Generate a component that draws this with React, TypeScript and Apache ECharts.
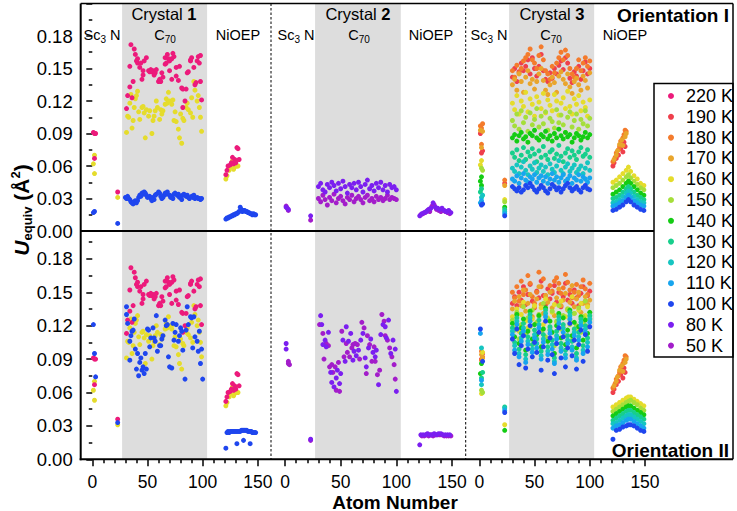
import React, { useEffect, useRef } from 'react';
import * as echarts from 'echarts';

type Pt = [number, number];

const TEMPS = ['220 K', '190 K', '180 K', '170 K', '160 K', '150 K', '140 K', '130 K', '120 K', '110 K', '100 K', '80 K', '50 K'];
const TEMP_COLORS = ['#ec1a7b', '#ef3f4c', '#f47b2c', '#e9a52c', '#e5dc2c', '#a5de3a', '#14cc14', '#17cf8c', '#16c5c1', '#17a5ee', '#1f46ee', '#7b1ff0', '#a31dca'];

const X_TICK_RANGE = [0, 150];
const C70_BAND = [27, 104];

// ---------- Crystal 1 (220 K, 160 K, 100 K) ----------
const C1_220_SC: Pt[] = [[1, 0.091], [2, 0.090], [3, 0.090], [2, 0.067], [23, 0.036]];
const C1_160_SC: Pt[] = [[2, 0.070], [1, 0.062], [2, 0.053], [23, 0.031]];
const C1_100_SC_I: Pt[] = [[1, 0.017], [2, 0.018], [23, 0.007]];
const C1_100_SC_II: Pt[] = [[1, 0.121], [2, 0.095], [3, 0.074], [23, 0.033]];

const C1_220_C70_ATOMS = [31, 32, 34, 34, 35, 36, 37, 38, 39, 40, 41, 41, 43, 44, 45, 46, 46, 47, 49, 51, 52, 53, 54, 55, 56, 57, 58, 60, 61, 62, 63, 64, 66, 66, 67, 68, 69, 70, 70, 72, 72, 73, 74, 76, 76, 78, 79, 81, 82, 82, 84, 85, 86, 87, 89, 89, 90, 92, 93, 94, 95, 96, 97, 98, 98, 99];
const C1_220_C70 = [0.113, 0.125, 0.133, 0.152, 0.172, 0.123, 0.138, 0.168, 0.163, 0.157, 0.155, 0.159, 0.151, 0.155, 0.140, 0.144, 0.148, 0.157, 0.160, 0.148, 0.147, 0.149, 0.147, 0.148, 0.144, 0.146, 0.149, 0.138, 0.140, 0.138, 0.146, 0.142, 0.154, 0.160, 0.155, 0.163, 0.159, 0.157, 0.148, 0.140, 0.159, 0.164, 0.161, 0.151, 0.143, 0.139, 0.152, 0.132, 0.131, 0.114, 0.120, 0.131, 0.146, 0.147, 0.157, 0.158, 0.160, 0.151, 0.135, 0.137, 0.157, 0.161, 0.155, 0.162, 0.138, 0.121];
const C1_160_C70_ATOMS = [31, 32, 33, 34, 35, 36, 37, 38, 39, 40, 41, 42, 43, 45, 46, 47, 48, 49, 51, 52, 54, 55, 56, 57, 58, 59, 61, 62, 63, 64, 66, 67, 68, 69, 70, 72, 73, 74, 75, 76, 78, 79, 80, 81, 82, 83, 85, 86, 87, 89, 90, 91, 92, 93, 95, 96, 97, 98, 99];
const C1_160_C70 = [0.091, 0.106, 0.105, 0.118, 0.126, 0.095, 0.102, 0.114, 0.122, 0.125, 0.129, 0.110, 0.103, 0.114, 0.115, 0.109, 0.086, 0.112, 0.106, 0.111, 0.090, 0.102, 0.106, 0.111, 0.120, 0.114, 0.103, 0.112, 0.108, 0.111, 0.117, 0.122, 0.118, 0.128, 0.120, 0.117, 0.121, 0.102, 0.110, 0.101, 0.094, 0.086, 0.108, 0.081, 0.104, 0.102, 0.114, 0.118, 0.112, 0.109, 0.123, 0.105, 0.138, 0.130, 0.120, 0.125, 0.114, 0.105, 0.092];
const C1_100_C70_I: Pt[] = [[30, 0.031], [31, 0.030], [32, 0.032], [33, 0.030], [34, 0.029], [35, 0.027], [36, 0.026], [37, 0.025], [38, 0.027], [39, 0.028], [40, 0.026], [41, 0.028], [42, 0.031], [43, 0.033], [44, 0.032], [45, 0.035], [46, 0.034], [47, 0.036], [48, 0.035], [49, 0.033], [50, 0.031], [52, 0.032], [53, 0.030], [54, 0.028], [55, 0.031], [56, 0.029], [57, 0.033], [58, 0.034], [60, 0.036], [61, 0.035], [62, 0.032], [63, 0.030], [64, 0.031], [65, 0.033], [66, 0.035], [67, 0.034], [68, 0.036], [70, 0.033], [71, 0.031], [72, 0.032], [73, 0.030], [74, 0.034], [75, 0.035], [77, 0.033], [78, 0.034], [79, 0.031], [80, 0.032], [81, 0.029], [82, 0.033], [83, 0.034], [85, 0.032], [86, 0.033], [87, 0.031], [88, 0.030], [90, 0.032], [91, 0.031], [92, 0.033], [93, 0.030], [95, 0.031], [96, 0.030], [97, 0.030], [98, 0.029], [99, 0.030]];
const C1_100_C70_II_ATOMS = [31, 31, 32, 34, 34, 35, 36, 37, 38, 39, 40, 41, 42, 43, 44, 45, 46, 47, 48, 49, 50, 51, 52, 53, 55, 56, 57, 58, 59, 61, 62, 63, 64, 66, 67, 68, 69, 70, 72, 73, 74, 75, 76, 78, 79, 80, 81, 82, 84, 85, 86, 87, 89, 90, 91, 92, 93, 95, 96, 97, 98, 99, 100];
const C1_100_C70_II = [0.130, 0.137, 0.122, 0.106, 0.089, 0.111, 0.115, 0.116, 0.126, 0.099, 0.081, 0.095, 0.075, 0.087, 0.091, 0.080, 0.083, 0.077, 0.095, 0.081, 0.117, 0.116, 0.101, 0.109, 0.118, 0.109, 0.106, 0.129, 0.097, 0.102, 0.102, 0.108, 0.111, 0.125, 0.120, 0.121, 0.092, 0.083, 0.082, 0.122, 0.107, 0.114, 0.121, 0.106, 0.111, 0.118, 0.115, 0.098, 0.072, 0.116, 0.137, 0.121, 0.128, 0.127, 0.100, 0.128, 0.110, 0.106, 0.097, 0.115, 0.086, 0.099, 0.072];

const C1_220_NI: Pt[] = [[121, 0.052], [122, 0.056], [123, 0.060], [125, 0.061], [126, 0.063], [127, 0.068], [128, 0.062], [129, 0.066], [130, 0.063], [131, 0.077], [132, 0.076], [133, 0.066]];
const C1_160_NI: Pt[] = [[121, 0.048], [122, 0.051], [124, 0.056], [125, 0.059], [127, 0.065], [128, 0.057], [129, 0.059], [130, 0.065], [131, 0.060], [132, 0.060]];
const C1_100_NI_I: Pt[] = [[121, 0.011], [122, 0.012], [123, 0.012], [124, 0.013], [125, 0.013], [126, 0.014], [127, 0.014], [128, 0.015], [129, 0.015], [130, 0.016], [131, 0.016], [132, 0.017], [133, 0.018], [134, 0.022], [135, 0.020], [136, 0.018], [137, 0.019], [138, 0.019], [139, 0.018], [140, 0.018], [141, 0.017], [142, 0.017], [143, 0.016], [144, 0.016], [145, 0.015], [146, 0.016], [147, 0.015], [148, 0.015]];
const C1_100_NI_II: Pt[] = [[121, 0.010], [122, 0.024], [123, 0.025], [124, 0.024], [125, 0.025], [126, 0.025], [127, 0.025], [128, 0.025], [129, 0.025], [130, 0.025], [131, 0.014], [131, 0.025], [132, 0.025], [133, 0.025], [134, 0.025], [135, 0.026], [137, 0.017], [136, 0.026], [137, 0.026], [138, 0.026], [139, 0.026], [140, 0.026], [141, 0.025], [142, 0.025], [143, 0.014], [143, 0.025], [144, 0.025], [145, 0.024], [146, 0.024], [147, 0.024], [148, 0.024]];

// ---------- Crystal 2 (80 K, 50 K) ----------
const C2_80_SC_I: Pt[] = [[1, 0.022], [3, 0.020], [23, 0.014]];
const C2_50_SC_I: Pt[] = [[1, 0.023], [2, 0.021], [3, 0.019], [23, 0.010]];
const C2_80_SC_II: Pt[] = [[1, 0.104], [1, 0.099], [23, 0.018]];
const C2_50_SC_II: Pt[] = [[3, 0.088], [3, 0.086], [4, 0.085], [23, 0.017]];

const C2_C70_ATOMS = [30, 32, 34, 36, 38, 40, 42, 44, 46, 48, 50, 52, 54, 56, 58, 60, 62, 64, 66, 68, 70, 72, 74, 76, 78, 80, 82, 84, 86, 88, 90, 92, 94, 96, 98, 100];
const C2_80_C70_I = [0.041, 0.044, 0.038, 0.036, 0.043, 0.040, 0.045, 0.042, 0.037, 0.044, 0.039, 0.046, 0.041, 0.035, 0.043, 0.040, 0.044, 0.038, 0.045, 0.041, 0.036, 0.043, 0.047, 0.039, 0.042, 0.037, 0.044, 0.040, 0.045, 0.038, 0.042, 0.036, 0.043, 0.040, 0.041, 0.038];
const C2_50_C70_I = [0.030, 0.027, 0.033, 0.029, 0.024, 0.031, 0.028, 0.034, 0.026, 0.030, 0.032, 0.028, 0.025, 0.031, 0.029, 0.033, 0.027, 0.030, 0.032, 0.029, 0.026, 0.031, 0.033, 0.028, 0.030, 0.027, 0.032, 0.029, 0.031, 0.028, 0.030, 0.033, 0.029, 0.031, 0.030, 0.029];
const C2_80_C70_II: Pt[] = [[32, 0.129], [33, 0.121], [34, 0.103], [36, 0.107], [37, 0.101], [39, 0.114], [41, 0.078], [42, 0.069], [44, 0.065], [46, 0.073], [47, 0.080], [49, 0.068], [50, 0.077], [52, 0.107], [54, 0.088], [55, 0.119], [57, 0.106], [59, 0.113], [61, 0.089], [62, 0.097], [64, 0.093], [66, 0.098], [68, 0.107], [70, 0.113], [72, 0.091], [73, 0.083], [75, 0.100], [77, 0.108], [79, 0.096], [81, 0.092], [82, 0.098], [84, 0.067], [86, 0.112], [88, 0.121], [90, 0.119], [91, 0.109], [93, 0.125], [95, 0.095], [97, 0.107], [99, 0.099], [100, 0.061]];
const C2_50_C70_II: Pt[] = [[31, 0.121], [34, 0.113], [35, 0.090], [37, 0.104], [39, 0.102], [40, 0.083], [42, 0.085], [43, 0.078], [45, 0.083], [46, 0.062], [48, 0.087], [49, 0.061], [51, 0.115], [53, 0.092], [55, 0.104], [56, 0.096], [58, 0.092], [60, 0.100], [61, 0.103], [63, 0.104], [65, 0.103], [67, 0.090], [69, 0.123], [71, 0.118], [73, 0.077], [74, 0.111], [76, 0.103], [78, 0.088], [80, 0.101], [81, 0.088], [83, 0.076], [85, 0.080], [87, 0.130], [89, 0.124], [90, 0.111], [92, 0.107], [94, 0.100], [96, 0.092], [98, 0.085], [99, 0.072]];

const C2_80_NI_I: Pt[] = [[121, 0.014], [123, 0.016], [125, 0.017], [127, 0.018], [129, 0.020], [131, 0.021], [133, 0.026], [135, 0.022], [137, 0.021], [139, 0.020], [141, 0.021], [143, 0.019], [145, 0.018], [147, 0.019], [149, 0.017]];
const C2_50_NI_I: Pt[] = [[122, 0.015], [124, 0.016], [126, 0.017], [128, 0.019], [130, 0.018], [132, 0.023], [134, 0.024], [136, 0.020], [138, 0.019], [140, 0.018], [142, 0.019], [144, 0.018], [146, 0.017], [148, 0.016]];
const C2_80_NI_II: Pt[] = [[121, 0.013], [122, 0.022], [124, 0.022], [126, 0.022], [128, 0.023], [130, 0.022], [132, 0.022], [134, 0.023], [136, 0.022], [138, 0.023], [140, 0.023], [142, 0.022], [144, 0.022], [146, 0.022], [148, 0.022]];
const C2_50_NI_II: Pt[] = [[123, 0.021], [125, 0.021], [127, 0.022], [129, 0.021], [131, 0.022], [133, 0.021], [135, 0.022], [137, 0.022], [139, 0.022], [141, 0.022], [143, 0.021], [145, 0.021], [147, 0.021], [149, 0.021]];

// ---------- Crystal 3 (190 K ... 100 K) ----------
const C3_TEMPS = ['190 K', '180 K', '170 K', '160 K', '150 K', '140 K', '130 K', '120 K', '110 K', '100 K'];

const C3_SC_I: Pt[][] = [
  [[1, 0.090], [2, 0.072], [3, 0.074], [23, 0.044]],
  [[1, 0.097], [2, 0.095], [3, 0.099], [2, 0.080], [23, 0.047]],
  [[1, 0.093], [2, 0.077], [3, 0.092], [23, 0.042]],
  [[2, 0.065], [1, 0.061], [23, 0.029]],
  [[2, 0.058], [3, 0.056], [23, 0.027]],
  [[2, 0.050], [1, 0.046], [2, 0.042], [23, 0.022]],
  [[2, 0.039], [1, 0.036], [23, 0.020]],
  [[2, 0.031], [3, 0.033], [23, 0.018]],
  [[2, 0.028], [1, 0.026], [23, 0.016]],
  [[2, 0.024], [3, 0.025], [23, 0.014]],
];
const C3_SC_II: Pt[][] = [
  [[3, 0.095], [2, 0.090]],
  [[2, 0.097], [3, 0.092], [2, 0.089]],
  [[2, 0.094], [3, 0.091]],
  [[2, 0.059], [3, 0.096], [23, 0.031]],
  [[2, 0.062], [3, 0.060]],
  [[2, 0.086], [1, 0.077], [23, 0.026]],
  [[2, 0.073], [3, 0.078], [23, 0.047]],
  [[2, 0.100], [2, 0.067], [23, 0.046]],
  [[1, 0.113], [2, 0.071], [23, 0.044]],
  [[1, 0.117], [3, 0.088], [23, 0.042]],
];

const C3_C70_ATOMS = [30, 32, 34, 36, 38, 40, 42, 44, 46, 48, 50, 52, 54, 56, 58, 60, 62, 64, 66, 68, 70, 72, 74, 76, 78, 80, 82, 84, 86, 88, 90, 92, 94, 96, 98, 100];
const C3_C70_I: number[][] = [
  [0.142, 0.150, 0.138, 0.147, 0.155, 0.148, 0.152, 0.158, 0.145, 0.160, 0.150, 0.143, 0.152, 0.163, 0.148, 0.140, 0.138, 0.146, 0.141, 0.150, 0.145, 0.153, 0.157, 0.149, 0.160, 0.155, 0.141, 0.137, 0.147, 0.143, 0.152, 0.140, 0.148, 0.156, 0.145, 0.150],
  [0.148, 0.142, 0.153, 0.146, 0.150, 0.157, 0.160, 0.163, 0.168, 0.158, 0.155, 0.150, 0.162, 0.170, 0.158, 0.148, 0.145, 0.140, 0.152, 0.146, 0.155, 0.160, 0.165, 0.158, 0.167, 0.162, 0.150, 0.145, 0.142, 0.150, 0.158, 0.148, 0.155, 0.160, 0.152, 0.157],
  [0.135, 0.140, 0.130, 0.145, 0.138, 0.128, 0.142, 0.148, 0.136, 0.140, 0.131, 0.138, 0.145, 0.150, 0.139, 0.130, 0.126, 0.135, 0.142, 0.137, 0.128, 0.143, 0.147, 0.140, 0.136, 0.145, 0.133, 0.127, 0.138, 0.141, 0.135, 0.130, 0.143, 0.139, 0.132, 0.146],
  [0.118, 0.112, 0.125, 0.108, 0.120, 0.115, 0.128, 0.110, 0.122, 0.117, 0.106, 0.124, 0.119, 0.113, 0.127, 0.109, 0.121, 0.116, 0.111, 0.126, 0.120, 0.107, 0.118, 0.123, 0.113, 0.129, 0.115, 0.108, 0.122, 0.117, 0.125, 0.111, 0.119, 0.114, 0.106, 0.121],
  [0.102, 0.097, 0.108, 0.094, 0.111, 0.100, 0.105, 0.092, 0.109, 0.098, 0.103, 0.113, 0.096, 0.106, 0.099, 0.110, 0.093, 0.104, 0.101, 0.095, 0.112, 0.100, 0.107, 0.098, 0.091, 0.105, 0.110, 0.096, 0.102, 0.108, 0.094, 0.103, 0.099, 0.111, 0.097, 0.104],
  [0.086, 0.089, 0.083, 0.088, 0.091, 0.085, 0.087, 0.082, 0.090, 0.088, 0.093, 0.086, 0.084, 0.089, 0.087, 0.092, 0.085, 0.088, 0.083, 0.090, 0.086, 0.094, 0.088, 0.085, 0.091, 0.087, 0.089, 0.082, 0.086, 0.090, 0.088, 0.084, 0.087, 0.091, 0.086, 0.089],
  [0.072, 0.068, 0.075, 0.065, 0.070, 0.077, 0.066, 0.073, 0.069, 0.076, 0.071, 0.064, 0.074, 0.068, 0.078, 0.070, 0.066, 0.073, 0.075, 0.067, 0.071, 0.079, 0.069, 0.064, 0.072, 0.076, 0.068, 0.074, 0.070, 0.066, 0.073, 0.077, 0.069, 0.071, 0.075, 0.068],
  [0.058, 0.055, 0.061, 0.053, 0.059, 0.064, 0.056, 0.052, 0.060, 0.057, 0.063, 0.054, 0.058, 0.061, 0.055, 0.059, 0.052, 0.062, 0.057, 0.054, 0.060, 0.065, 0.056, 0.053, 0.059, 0.062, 0.055, 0.058, 0.061, 0.054, 0.057, 0.060, 0.053, 0.058, 0.063, 0.056],
  [0.048, 0.046, 0.051, 0.044, 0.049, 0.053, 0.047, 0.045, 0.050, 0.048, 0.052, 0.045, 0.049, 0.051, 0.046, 0.050, 0.044, 0.048, 0.053, 0.047, 0.050, 0.045, 0.049, 0.052, 0.046, 0.048, 0.051, 0.044, 0.049, 0.047, 0.052, 0.046, 0.050, 0.048, 0.045, 0.049],
  [0.041, 0.039, 0.037, 0.040, 0.036, 0.038, 0.042, 0.040, 0.044, 0.041, 0.038, 0.036, 0.039, 0.042, 0.040, 0.037, 0.035, 0.039, 0.043, 0.041, 0.038, 0.040, 0.036, 0.039, 0.042, 0.044, 0.040, 0.037, 0.039, 0.041, 0.038, 0.036, 0.040, 0.042, 0.039, 0.038],
];
const C3_C70_II: number[][] = [
  [0.140, 0.146, 0.138, 0.150, 0.143, 0.155, 0.139, 0.148, 0.157, 0.142, 0.136, 0.151, 0.145, 0.160, 0.147, 0.139, 0.153, 0.144, 0.149, 0.156, 0.141, 0.150, 0.137, 0.146, 0.158, 0.143, 0.148, 0.140, 0.152, 0.145, 0.138, 0.149, 0.155, 0.142, 0.147, 0.151],
  [0.150, 0.145, 0.155, 0.142, 0.160, 0.148, 0.152, 0.165, 0.158, 0.146, 0.140, 0.150, 0.168, 0.155, 0.162, 0.147, 0.143, 0.156, 0.151, 0.160, 0.163, 0.158, 0.149, 0.154, 0.166, 0.159, 0.152, 0.145, 0.150, 0.157, 0.147, 0.155, 0.161, 0.153, 0.148, 0.158],
  [0.135, 0.142, 0.130, 0.146, 0.138, 0.152, 0.133, 0.140, 0.148, 0.128, 0.137, 0.144, 0.155, 0.139, 0.131, 0.147, 0.141, 0.150, 0.136, 0.129, 0.145, 0.153, 0.138, 0.143, 0.149, 0.134, 0.141, 0.156, 0.137, 0.144, 0.150, 0.132, 0.140, 0.146, 0.139, 0.143],
  [0.128, 0.120, 0.135, 0.115, 0.130, 0.141, 0.124, 0.118, 0.133, 0.126, 0.138, 0.112, 0.129, 0.136, 0.121, 0.144, 0.127, 0.116, 0.132, 0.139, 0.123, 0.130, 0.142, 0.119, 0.128, 0.135, 0.125, 0.146, 0.131, 0.117, 0.134, 0.140, 0.122, 0.129, 0.137, 0.126],
  [0.125, 0.116, 0.132, 0.108, 0.121, 0.137, 0.113, 0.127, 0.119, 0.134, 0.104, 0.123, 0.130, 0.115, 0.140, 0.110, 0.126, 0.118, 0.133, 0.102, 0.124, 0.138, 0.117, 0.129, 0.111, 0.135, 0.121, 0.107, 0.131, 0.120, 0.136, 0.114, 0.128, 0.142, 0.119, 0.126],
  [0.122, 0.110, 0.130, 0.104, 0.118, 0.126, 0.098, 0.115, 0.133, 0.108, 0.121, 0.112, 0.129, 0.101, 0.117, 0.136, 0.106, 0.124, 0.114, 0.095, 0.120, 0.131, 0.109, 0.127, 0.103, 0.116, 0.134, 0.111, 0.123, 0.100, 0.119, 0.128, 0.107, 0.125, 0.113, 0.132],
  [0.118, 0.105, 0.127, 0.099, 0.113, 0.122, 0.094, 0.110, 0.130, 0.103, 0.116, 0.108, 0.125, 0.097, 0.112, 0.134, 0.101, 0.119, 0.107, 0.091, 0.115, 0.128, 0.104, 0.121, 0.098, 0.111, 0.132, 0.106, 0.117, 0.095, 0.114, 0.126, 0.102, 0.120, 0.109, 0.129],
  [0.115, 0.102, 0.124, 0.095, 0.109, 0.118, 0.090, 0.106, 0.127, 0.099, 0.112, 0.104, 0.121, 0.093, 0.108, 0.131, 0.097, 0.116, 0.103, 0.088, 0.111, 0.125, 0.100, 0.118, 0.094, 0.107, 0.129, 0.101, 0.114, 0.091, 0.110, 0.123, 0.098, 0.117, 0.105, 0.126],
  [0.112, 0.098, 0.121, 0.092, 0.106, 0.115, 0.087, 0.103, 0.124, 0.096, 0.109, 0.100, 0.118, 0.090, 0.105, 0.128, 0.094, 0.113, 0.099, 0.086, 0.108, 0.122, 0.097, 0.114, 0.091, 0.104, 0.126, 0.098, 0.111, 0.089, 0.107, 0.120, 0.095, 0.114, 0.101, 0.123],
  [0.108, 0.095, 0.117, 0.085, 0.102, 0.111, 0.082, 0.099, 0.120, 0.092, 0.105, 0.096, 0.114, 0.080, 0.101, 0.124, 0.089, 0.109, 0.094, 0.077, 0.104, 0.118, 0.091, 0.110, 0.083, 0.100, 0.122, 0.093, 0.107, 0.081, 0.103, 0.116, 0.088, 0.112, 0.097, 0.119],
];

// NiOEP: warm temperatures form a rising streak (same in both orientations)
const C3_NI_STREAK: Pt[][] = [
  [[121, 0.060], [122, 0.063], [124, 0.067], [126, 0.070], [128, 0.076], [130, 0.073], [131, 0.082], [132, 0.078]],
  [[121, 0.064], [123, 0.068], [124, 0.072], [126, 0.075], [127, 0.078], [128, 0.083], [130, 0.086], [131, 0.089], [132, 0.093], [133, 0.092]],
  [[122, 0.066], [124, 0.070], [125, 0.074], [127, 0.080], [129, 0.084], [130, 0.079], [132, 0.087], [133, 0.090]],
];
// NiOEP: 160 K ... 100 K form a tent
const C3_NI_ATOMS = [121, 124, 127, 130, 133, 135, 137, 140, 143, 146, 149];
const C3_NI_I: number[][] = [
  [0.045, 0.047, 0.050, 0.053, 0.056, 0.059, 0.055, 0.051, 0.048, 0.044, 0.042],
  [0.040, 0.042, 0.044, 0.047, 0.050, 0.052, 0.049, 0.046, 0.043, 0.040, 0.038],
  [0.034, 0.036, 0.038, 0.041, 0.044, 0.046, 0.044, 0.041, 0.038, 0.035, 0.033],
  [0.030, 0.031, 0.033, 0.036, 0.039, 0.041, 0.039, 0.036, 0.033, 0.031, 0.029],
  [0.026, 0.027, 0.029, 0.032, 0.035, 0.037, 0.035, 0.032, 0.029, 0.027, 0.026],
  [0.023, 0.024, 0.026, 0.028, 0.031, 0.033, 0.031, 0.028, 0.026, 0.024, 0.023],
  [0.019, 0.020, 0.022, 0.024, 0.027, 0.029, 0.027, 0.024, 0.022, 0.020, 0.019],
];
const C3_NI_II: number[][] = [
  [0.047, 0.049, 0.051, 0.053, 0.055, 0.056, 0.056, 0.054, 0.052, 0.050, 0.048],
  [0.043, 0.045, 0.047, 0.049, 0.051, 0.052, 0.053, 0.051, 0.049, 0.046, 0.044],
  [0.039, 0.041, 0.043, 0.045, 0.047, 0.048, 0.048, 0.046, 0.044, 0.042, 0.040],
  [0.035, 0.037, 0.039, 0.041, 0.043, 0.044, 0.044, 0.042, 0.040, 0.038, 0.036],
  [0.032, 0.033, 0.035, 0.037, 0.039, 0.040, 0.040, 0.038, 0.036, 0.034, 0.032],
  [0.028, 0.030, 0.031, 0.033, 0.035, 0.036, 0.036, 0.034, 0.032, 0.030, 0.028],
  [0.018, 0.026, 0.027, 0.029, 0.030, 0.031, 0.031, 0.030, 0.028, 0.026, 0.025],
];

// ---------- layout ----------
const FONT = '"Liberation Sans", Arial, sans-serif';
const CRYSTAL_LEFT = [80.7, 271, 465.7];
const CRYSTAL_WIDTH = [190.3, 194.7, 194.3];
const X_MIN = [-10.5, -12.6, -12.3];
const X_MAX = [161.9, 162.3, 163.6];
const TOP_Y = 3.5, MID_Y = 231, BOT_Y = 459.3, RIGHT_X = 733;
const Y_MAX = [0.21, 0.205];

function zip(xs: number[], ys: number[]): Pt[] {
  return xs.map((x, i) => [x, ys[i]] as Pt);
}
function colorOf(t: string) {
  return TEMP_COLORS[TEMPS.indexOf(t)];
}

function buildOption() {
  const grids: any[] = [];
  const xAxes: any[] = [];
  const yAxes: any[] = [];
  const series: any[] = [];

  for (let p = 0; p < 2; p++) {
    for (let c = 0; c < 3; c++) {
      const gi = p * 3 + c;
      grids.push({ left: CRYSTAL_LEFT[c], width: CRYSTAL_WIDTH[c], top: p === 0 ? TOP_Y : MID_Y, height: p === 0 ? MID_Y - TOP_Y : BOT_Y - MID_Y });
      xAxes.push({ gridIndex: gi, type: 'value', min: X_MIN[c], max: X_MAX[c], show: false });
      const visible = c === 0;
      yAxes.push({
        gridIndex: gi, type: 'value', min: 0, max: Y_MAX[p], interval: 0.03, show: visible,
        axisLine: { show: false },
        axisTick: { show: true, length: 6, lineStyle: { color: '#000', width: 1.5 } },
        minorTick: { show: true, splitNumber: 2, length: 3.5, lineStyle: { color: '#000', width: 1.5 } },
        splitLine: { show: false },
        minorSplitLine: { show: false },
        axisLabel: {
          fontSize: 18.5, color: '#000', margin: 8, fontFamily: FONT,
          formatter: (v: number) => (v > 0.19 ? '' : v.toFixed(2)),
        },
      });
      series.push({
        type: 'scatter', data: [], xAxisIndex: gi, yAxisIndex: gi, silent: true, z: 1,
        markArea: { silent: true, itemStyle: { color: '#dddddd' }, data: [[{ xAxis: C70_BAND[0] }, { xAxis: C70_BAND[1] }]] },
      });
    }
  }
  for (let c = 0; c < 3; c++) {
    const gi = 6 + c;
    const ppu = CRYSTAL_WIDTH[c] / (X_MAX[c] - X_MIN[c]);
    grids.push({
      left: CRYSTAL_LEFT[c] + (X_TICK_RANGE[0] - X_MIN[c]) * ppu,
      width: (X_TICK_RANGE[1] - X_TICK_RANGE[0]) * ppu,
      top: MID_Y, height: BOT_Y - MID_Y,
    });
    xAxes.push({
      gridIndex: gi, type: 'value', min: X_TICK_RANGE[0], max: X_TICK_RANGE[1], interval: 50, position: 'bottom',
      axisLine: { show: false },
      axisTick: { show: true, length: 7, lineStyle: { color: '#000', width: 1.5 } },
      minorTick: { show: true, splitNumber: 5, length: 4, lineStyle: { color: '#000', width: 1.5 } },
      splitLine: { show: false },
      minorSplitLine: { show: false },
      axisLabel: { fontSize: 17.5, color: '#000', margin: 14, fontFamily: FONT },
    });
    yAxes.push({ gridIndex: gi, type: 'value', min: 0, max: 1, show: false });
  }

  const add = (gi: number, temp: string, data: Pt[]) => {
    series.push({
      type: 'scatter', name: temp, xAxisIndex: gi, yAxisIndex: gi, data,
      symbol: 'circle', symbolSize: 5, silent: true, z: 3,
      itemStyle: { color: colorOf(temp), opacity: 1 },
    });
  };

  add(0, '160 K', [...C1_160_SC, ...zip(C1_160_C70_ATOMS, C1_160_C70), ...C1_160_NI]);
  add(0, '220 K', [...C1_220_SC, ...zip(C1_220_C70_ATOMS, C1_220_C70), ...C1_220_NI]);
  add(0, '100 K', [...C1_100_SC_I, ...C1_100_C70_I, ...C1_100_NI_I]);
  add(3, '160 K', [...C1_160_SC, ...zip(C1_160_C70_ATOMS, C1_160_C70), ...C1_160_NI]);
  add(3, '220 K', [...C1_220_SC, ...zip(C1_220_C70_ATOMS, C1_220_C70), ...C1_220_NI]);
  add(3, '100 K', [...C1_100_SC_II, ...zip(C1_100_C70_II_ATOMS, C1_100_C70_II), ...C1_100_NI_II]);

  add(1, '50 K', [...C2_50_SC_I, ...zip(C2_C70_ATOMS, C2_50_C70_I), ...C2_50_NI_I]);
  add(1, '80 K', [...C2_80_SC_I, ...zip(C2_C70_ATOMS, C2_80_C70_I), ...C2_80_NI_I]);
  add(4, '50 K', [...C2_50_SC_II, ...C2_50_C70_II, ...C2_50_NI_II]);
  add(4, '80 K', [...C2_80_SC_II, ...C2_80_C70_II, ...C2_80_NI_II]);

  C3_TEMPS.forEach((t, i) => {
    const niI = i < 3 ? C3_NI_STREAK[i] : zip(C3_NI_ATOMS, C3_NI_I[i - 3]);
    const niII = i < 3 ? C3_NI_STREAK[i] : zip(C3_NI_ATOMS, C3_NI_II[i - 3]);
    add(2, t, [...C3_SC_I[i], ...zip(C3_C70_ATOMS, C3_C70_I[i]), ...niI]);
    add(5, t, [...C3_SC_II[i], ...zip(C3_C70_ATOMS, C3_C70_II[i]), ...niII]);
  });

  const line = (x1: number, y1: number, x2: number, y2: number, w: number, dash?: number[]) => ({
    type: 'line', z: 10, silent: true,
    shape: { x1, y1, x2, y2 },
    style: { stroke: '#000', lineWidth: w, lineDash: dash },
  });

  const sub = (main: number, small: number) => ({
    a: { fontSize: main, fontFamily: FONT, fill: '#000', lineHeight: main + 2, verticalAlign: 'top', padding: [0, 0, 0, 0] },
    s: { fontSize: small, fontFamily: FONT, fill: '#000', lineHeight: small + 1, verticalAlign: 'top', padding: [7, 0, 0, 0] },
  });
  const txt = (x: number, y: number, text: string, rich: any, align = 'center', extra: any = {}) => ({
    type: 'text', x, y, z: 12, silent: true,
    style: { text, rich, align, verticalAlign: 'middle', fill: '#000', fontFamily: FONT, ...extra },
  });

  const crystalRich = {
    a: { fontSize: 16.5, fontFamily: FONT, fill: '#000' },
    b: { fontSize: 16.5, fontFamily: FONT, fill: '#000', fontWeight: 'bold' },
  };
  const subRich = sub(14.5, 10);

  const labelXs = [
    { sc: 102, c70: 165, ni: 238, cr: 164 },
    { sc: 296, c70: 359, ni: 431, cr: 358 },
    { sc: 489, c70: 551, ni: 625, cr: 552 },
  ];

  const elements: any[] = [
    line(CRYSTAL_LEFT[0], TOP_Y, RIGHT_X, TOP_Y, 1.5),
    line(RIGHT_X, TOP_Y, RIGHT_X, BOT_Y, 1.5),
    line(CRYSTAL_LEFT[0], TOP_Y, CRYSTAL_LEFT[0], BOT_Y + 1, 2),
    line(CRYSTAL_LEFT[0] - 1, BOT_Y, RIGHT_X, BOT_Y, 2),
    line(CRYSTAL_LEFT[0], MID_Y, 654, MID_Y, 2),
    line(CRYSTAL_LEFT[1], TOP_Y, CRYSTAL_LEFT[1], BOT_Y, 1, [2.5, 2]),
    line(CRYSTAL_LEFT[2], TOP_Y, CRYSTAL_LEFT[2], BOT_Y, 1, [2.5, 2]),
    {
      type: 'rect', z: 3, silent: true,
      shape: { x: 654, y: 83.5, width: RIGHT_X - 654, height: 273.5 },
      style: { fill: '#fff', stroke: '#000', lineWidth: 1.5 },
    },
  ];
  labelXs.forEach((l, i) => {
    elements.push(txt(l.cr, 14, `{a|Crystal }{b|${i + 1}}`, crystalRich));
    elements.push(txt(l.sc, 36, '{a|Sc}{s|3}{a| N}', subRich));
    elements.push(txt(l.c70, 36, '{a|C}{s|70}', subRich));
    elements.push(txt(l.ni, 34.5, 'NiOEP', undefined, 'center', { fontSize: 14.5 }));
  });
  elements.push(txt(729, 15, 'Orientation I', undefined, 'right', { fontSize: 19, fontWeight: 'bold' }));
  elements.push(txt(729, 450, 'Orientation II', undefined, 'right', { fontSize: 19, fontWeight: 'bold' }));
  elements.push(txt(395, 502, 'Atom Number', undefined, 'center', { fontSize: 19, fontWeight: 'bold' }));
  elements.push({
    type: 'text', x: 18, y: 210, rotation: Math.PI / 2, z: 12, silent: true,
    style: {
      text: '{u|U}{sb|equiv}{m| (Å}{sp|2}{m|)}',
      align: 'center', verticalAlign: 'middle', fill: '#000',
      rich: {
        u: { fontSize: 21, fontFamily: FONT, fontWeight: 'bold', fontStyle: 'italic', fill: '#000', lineHeight: 22, verticalAlign: 'top', padding: [4, 0, 0, 0] },
        sb: { fontSize: 13, fontFamily: FONT, fontWeight: 'bold', fill: '#000', lineHeight: 14, verticalAlign: 'top', padding: [14, 0, 0, 0] },
        m: { fontSize: 21, fontFamily: FONT, fontWeight: 'bold', fill: '#000', lineHeight: 22, verticalAlign: 'top', padding: [4, 0, 0, 0] },
        sp: { fontSize: 13, fontFamily: FONT, fontWeight: 'bold', fill: '#000', lineHeight: 14, verticalAlign: 'top', padding: [2, 0, 0, 0] },
      },
    },
  });

  return {
    animation: false,
    backgroundColor: '#fff',
    textStyle: { fontFamily: FONT },
    grid: grids,
    xAxis: xAxes,
    yAxis: yAxes,
    series,
    legend: {
      data: TEMPS, orient: 'vertical', left: 668, top: 87, z: 20,
      itemWidth: 8, itemHeight: 6, itemGap: 2.8, icon: 'circle', selectedMode: false,
      padding: 0,
      textStyle: { fontSize: 18, color: '#000', fontFamily: FONT, padding: [0, 0, 0, 6] },
    },
    graphic: { elements },
  };
}

export default function App() {
  const ref = useRef<HTMLDivElement>(null);
  useEffect(() => {
    if (!ref.current) return;
    const chart = echarts.init(ref.current, undefined, { renderer: 'svg' });
    chart.setOption(buildOption() as any);
    return () => chart.dispose();
  }, []);
  return <div ref={ref} style={{ position: 'fixed', left: 0, top: 0, width: 737, height: 511, background: '#fff' }} />;
}
